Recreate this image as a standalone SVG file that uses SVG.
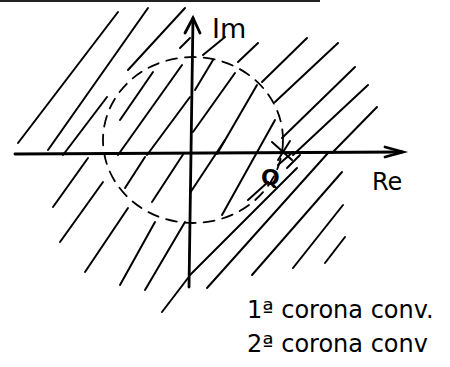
<svg xmlns="http://www.w3.org/2000/svg" width="450" height="367" viewBox="0 0 450 367">
<style>
.h{stroke:#000;stroke-width:2;stroke-linecap:round;fill:none}
.ax{stroke:#000;stroke-width:2.8;stroke-linecap:round;fill:none}
.c{stroke:#000;stroke-width:1.8;fill:none;stroke-dasharray:11 8;stroke-linecap:round}
.t{font-family:"DejaVu Sans","Liberation Sans",sans-serif;fill:#000}
</style>
<rect x="0" y="0" width="320" height="2" fill="#222"/>
<g id="hatching">
<line class="h" x1="18" y1="143" x2="118" y2="12"/>
<line class="h" x1="48" y1="150" x2="148" y2="8"/>
<line class="h" x1="63" y1="155" x2="107" y2="97"/>
<line class="h" x1="128" y1="70" x2="185" y2="8"/>
<line class="h" x1="120" y1="120" x2="153" y2="72"/>
<line class="h" x1="118" y1="155" x2="182" y2="65"/>
<line class="h" x1="147" y1="155" x2="190" y2="97"/>
<line class="h" x1="180" y1="48" x2="190" y2="38"/>
<line class="h" x1="193" y1="132" x2="235" y2="73"/>
<line class="h" x1="195" y1="90" x2="213" y2="60"/>
<line class="h" x1="203" y1="55" x2="225" y2="37"/>
<line class="h" x1="238" y1="62" x2="258" y2="43"/>
<line class="h" x1="53" y1="207" x2="88" y2="158"/>
<line class="h" x1="60" y1="242" x2="103" y2="182"/>
<line class="h" x1="85" y1="272" x2="128" y2="208"/>
<line class="h" x1="120" y1="285" x2="155" y2="222"/>
<line class="h" x1="145" y1="290" x2="185" y2="222"/>
<line class="h" x1="125" y1="188" x2="145" y2="157"/>
<line class="h" x1="152" y1="202" x2="184" y2="153"/>
<line class="h" x1="162" y1="312" x2="188" y2="278"/>
<line class="h" x1="190" y1="275" x2="297" y2="168"/>
<line class="h" x1="207" y1="288" x2="328" y2="153"/>
<line class="h" x1="252" y1="275" x2="342" y2="172"/>
<line class="h" x1="293" y1="268" x2="343" y2="205"/>
<line class="h" x1="325" y1="263" x2="345" y2="237"/>
<line class="h" x1="262" y1="82" x2="307" y2="38"/>
<line class="h" x1="275" y1="102" x2="338" y2="43"/>
<line class="h" x1="282" y1="138" x2="355" y2="67"/>
<line class="h" x1="293" y1="155" x2="368" y2="85"/>
<line class="h" x1="332" y1="153" x2="377" y2="107"/>
<line class="h" x1="217" y1="154" x2="257" y2="85"/>
<line class="h" x1="222" y1="215" x2="275" y2="120"/>
<line class="h" x1="190" y1="193" x2="225" y2="140"/>
<line class="h" x1="248" y1="200" x2="268" y2="182"/>
<line class="h" x1="278" y1="165" x2="293" y2="152"/>
<line class="h" x1="287" y1="168" x2="300" y2="155"/>
</g>
<g id="circle">
<ellipse class="c" cx="193" cy="140" rx="90" ry="83"/>
</g>
<g id="axes">
<line class="ax" x1="15" y1="154" x2="402" y2="152"/>
<polyline class="ax" points="385,147 403,152 385,157"/>
<line class="ax" x1="189" y1="287" x2="193" y2="18"/>
<polyline class="ax" points="185,33 193,18 200,33"/>
</g>
<g id="point">
<line class="h" x1="272" y1="142" x2="292" y2="160"/>
<line class="h" x1="290" y1="141" x2="278" y2="160"/>
<text class="t" x="261" y="185" font-size="22" font-weight="bold">Q</text>
</g>
<g id="labels">
<text class="t" x="212" y="38" font-size="27">Im</text>
<text class="t" x="372" y="190" font-size="24">Re</text>
<text class="t" x="247" y="318" font-size="24">1ª corona conv.</text>
<text class="t" x="247" y="352" font-size="24">2ª corona conv</text>
</g>
</svg>
